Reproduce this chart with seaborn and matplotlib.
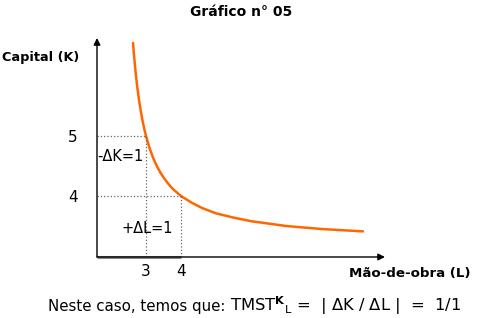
import matplotlib
matplotlib.use("Agg")
import matplotlib.pyplot as plt
import seaborn as sns
import pandas as pd

# Data
labor = [2.63, 2.65, 2.7, 2.75, 2.8, 2.85, 2.9, 2.95, 3.0, 3.1, 3.2, 3.3, 3.4, 3.5, 3.6, 3.7, 3.8, 3.9, 4.0,
         4.3, 4.6, 5.0, 5.5, 6.0, 7.0, 8.0, 9.2]
capital = [6.55, 6.4, 6.08, 5.82, 5.6, 5.42, 5.26, 5.12, 5.0, 4.8, 4.64, 4.51, 4.4, 4.31, 4.23, 4.16, 4.1, 4.05, 4.0,
           3.89, 3.8, 3.71, 3.64, 3.58, 3.5, 3.45, 3.41]
x_ticks = [3, 4]
y_ticks = [5, 4]
points_L = [3, 4]
points_K = [5, 4]

sns.set_style("white")
plt.rcParams['font.family'] = ['DejaVu Sans']
plt.rcParams['mathtext.fontset'] = 'dejavusans'
plt.rcParams['text.color'] = 'black'
plt.rcParams['xtick.color'] = 'black'
plt.rcParams['ytick.color'] = 'black'

fig = plt.figure(figsize=(4.9, 3.18), dpi=100)
ax = fig.add_axes([97/490, 1-257/318, (385-97)/490, (257-38)/318])
ax.set_xlim(1.6, 9.83)
ax.set_ylim(2.983, 6.633)
for s in ax.spines.values():
    s.set_visible(False)

df = pd.DataFrame({"L": labor, "K": capital})
sns.lineplot(data=df, x="L", y="K", ax=ax, color="#FF6600", linewidth=1.8, sort=False)

# dotted guide lines
for l, k in zip(points_L, points_K):
    ax.plot([1.6, l], [k, k], ls=':', color='#666666', lw=0.9)
    ax.plot([l, l], [2.983, k], ls=':', color='#666666', lw=0.9)

# gray segment on x axis up to L=4
ax.plot([1.6, 4], [2.983, 2.983], color='#888888', lw=2.2, solid_capstyle='butt', clip_on=False)

# axes arrows
ax.annotate('', xy=(0, 1), xytext=(0, 0), xycoords='axes fraction',
            arrowprops=dict(arrowstyle='-|>', color='black', lw=1, mutation_scale=10, shrinkA=0, shrinkB=0))
ax.annotate('', xy=(1, 0), xytext=(0, 0), xycoords='axes fraction',
            arrowprops=dict(arrowstyle='-|>', color='black', lw=1, mutation_scale=10, shrinkA=0, shrinkB=0))

ax.set_xticks(x_ticks)
ax.set_xticklabels([str(v) for v in x_ticks])
ax.set_yticks(y_ticks)
ax.set_yticklabels([str(v) for v in y_ticks])
ax.tick_params(axis='x', length=0, pad=5, labelsize=11, labelcolor='black')
ax.tick_params(axis='y', length=0, pad=14, labelsize=11, labelcolor='black')
ax.set_xlabel("")
ax.set_ylabel("")

ax.text(1.6, 4.65, "-ΔK=1", fontsize=10.5, va='center', ha='left')
ax.text(2.3, 3.45, "+ΔL=1", fontsize=10.5, va='center', ha='left')

fig.text(241/490, 1-12/318, "Gráfico n° 05", fontsize=10, fontweight='bold', ha='center', va='center')
fig.text(2/490, 1-58/318, "Capital (K)", fontsize=9.3, fontweight='bold', ha='left', va='center')
fig.text(470/490, 1-273/318, "Mão-de-obra (L)", fontsize=9.6, fontweight='bold', ha='right', va='center')
fig.text(48/490, 1-306/318, "Neste caso, temos que:", fontsize=10.8, ha='left', va='center')
fig.text(230/490, 1-306/318, r"TMST$^{\mathbf{K}}$$_{\mathrm{L}}$ =  | ΔK / ΔL |  =  1/1", fontsize=11.8, ha='left', va='center')

fig.savefig("out.png", dpi=100)
